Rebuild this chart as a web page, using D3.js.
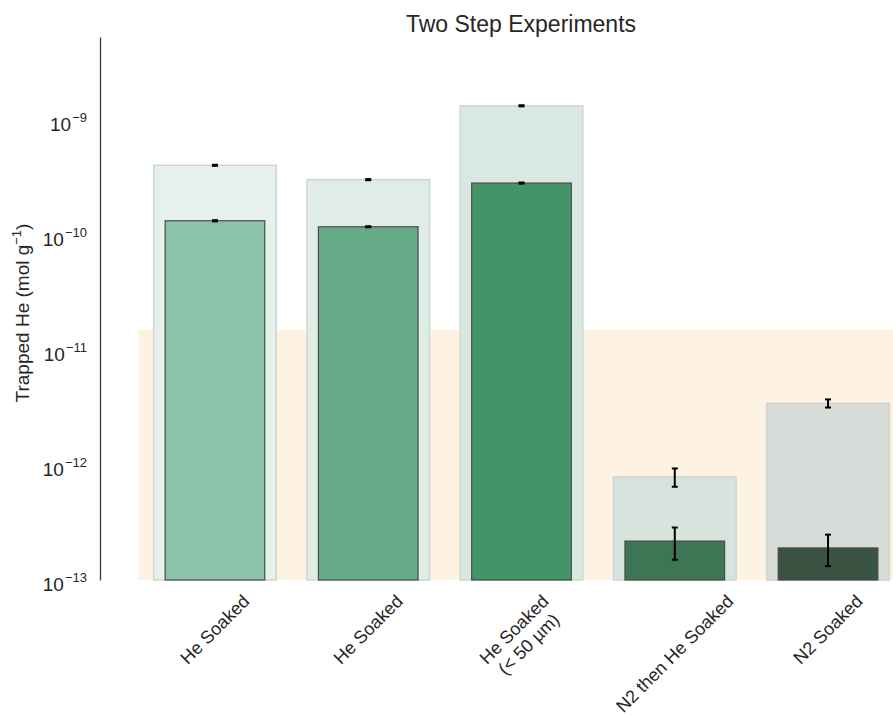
<!DOCTYPE html>
<html>
<head>
<meta charset="utf-8">
<script src="https://cdn.jsdelivr.net/npm/d3@7"></script>
<style>
  html, body { margin: 0; padding: 0; background: #ffffff; }
  svg { display: block; }
  text { font-family: "Liberation Sans", Arial, sans-serif; fill: #262626; }
</style>
</head>
<body>
<svg id="chart" width="893" height="719"></svg>
<script>
// Sample treatments, in plotting order
const categories = ["He Soaked", "He Soaked", "He Soaked\n(< 50 µm)", "N2 then He Soaked", "N2 Soaked"];

// Total helium released (mol g^-1) and its uncertainty
const totalHe    = [4.04e-10, 3.03e-10, 1.33e-9, 7.9e-13, 3.44e-12];
const totalHeErr = [4.5e-12, 3.5e-12, 1.5e-11, 1.43e-13, 2.8e-13];

// Helium that stayed trapped (mol g^-1) and its uncertainty
const trappedHe    = [1.33e-10, 1.18e-10, 2.83e-10, 2.18e-13, 1.90e-13];
const trappedHeErr = [1.6e-12, 1.3e-12, 3.2e-12, 6.8e-14, 5.8e-14];

// Detection limit shown as a shaded band
const detectionLimit = 1.5e-11;

// Y axis decades
const tickExponents = [-13, -12, -11, -10, -9];

// Colours per treatment
const trappedColors = ["#8cc2aa", "#66aa88", "#439467", "#3e7555", "#3a5343"];
const totalColors   = ["#e6f0ec", "#e0ede6", "#d9e9e1", "#d8e3dd", "#d8dcd9"];

const svg = d3.select("#chart");

const x = d3.scaleLinear().domain([-0.75, 4.75]).range([100, 943]);
const y = d3.scaleLog().domain([1e-13, Math.pow(10, -8.278)]).range([580, 37]);

const idx = d3.range(categories.length);
const wideW = 0.8, narrowW = 0.65;

// detection-limit band
svg.append("rect")
  .attr("x", x(-0.5))
  .attr("y", y(detectionLimit))
  .attr("width", x(4.75) - x(-0.5))
  .attr("height", y(1e-13) - y(detectionLimit))
  .attr("fill", "#fef3e3");

// total helium bars (wide, pale)
svg.append("g").selectAll("rect").data(idx).join("rect")
  .attr("x", i => x(i - wideW / 2))
  .attr("y", i => y(totalHe[i]))
  .attr("width", x(wideW) - x(0))
  .attr("height", i => y(1e-13) - y(totalHe[i]))
  .attr("fill", i => totalColors[i])
  .attr("stroke", "#cfd5d2")
  .attr("stroke-width", 1.5);

function errorBars(vals, errs) {
  const g = svg.append("g").attr("stroke", "#000").attr("stroke-width", 2).attr("fill", "none");
  idx.forEach(i => {
    const cx = x(i);
    const y0 = y(vals[i] - errs[i]), y1 = y(vals[i] + errs[i]);
    g.append("line").attr("x1", cx).attr("x2", cx).attr("y1", y0).attr("y2", y1);
    g.append("line").attr("x1", cx - 3).attr("x2", cx + 3).attr("y1", y0).attr("y2", y0);
    g.append("line").attr("x1", cx - 3).attr("x2", cx + 3).attr("y1", y1).attr("y2", y1);
  });
}
errorBars(totalHe, totalHeErr);

// trapped helium bars (narrow, solid)
svg.append("g").selectAll("rect").data(idx).join("rect")
  .attr("x", i => x(i - narrowW / 2))
  .attr("y", i => y(trappedHe[i]))
  .attr("width", x(narrowW) - x(0))
  .attr("height", i => y(1e-13) - y(trappedHe[i]))
  .attr("fill", i => trappedColors[i])
  .attr("stroke", "#4a4a4a")
  .attr("stroke-width", 1.2);

errorBars(trappedHe, trappedHeErr);

// y axis
const yAxis = svg.append("g")
  .attr("transform", "translate(100,0)")
  .call(d3.axisLeft(y)
    .tickValues(tickExponents.map(e => Math.pow(10, e)))
    .tickSize(0)
    .tickSizeOuter(0)
    .tickPadding(13)
    .tickFormat(""));
yAxis.select(".domain").attr("stroke", "#3a3a3a").attr("stroke-width", 1.3);
yAxis.selectAll(".tick text").each(function (d, k) {
  const t = d3.select(this)
    .attr("dy", "0.55em")
    .attr("font-size", 19)
    .attr("font-family", "Liberation Sans, Arial, sans-serif")
    .attr("fill", "#262626");
  t.text("10");
  t.append("tspan").attr("font-size", 13).attr("dy", -8.5).attr("dx", 1)
    .text("\u2212" + Math.abs(tickExponents[k]));
});

// y label
const yl = svg.append("text")
  .attr("transform", "translate(29,313) rotate(-90)")
  .attr("text-anchor", "middle")
  .attr("font-size", 19);
yl.append("tspan").text("Trapped He (mol g");
yl.append("tspan").attr("font-size", 13).attr("dy", -8).text("\u22121");
yl.append("tspan").attr("dy", 8).text(")");

// x tick labels, rotated 45 degrees and centred under each bar
idx.forEach(i => {
  const g = svg.append("g");
  const t = g.append("text").attr("font-size", 18).attr("text-anchor", "middle");
  const lines = categories[i].split("\n");
  lines.forEach((ln, k) => {
    t.append("tspan").attr("x", 0).attr("dy", k === 0 ? 0 : "1.15em").text(ln);
  });
  const bb = t.node().getBBox();
  const cx = bb.x + bb.width / 2, cy = bb.y + bb.height / 2;
  const a = -Math.PI / 4;
  const rx = cx * Math.cos(a) - cy * Math.sin(a);
  const ry = cx * Math.sin(a) + cy * Math.cos(a);
  const half = (bb.width + bb.height) / (2 * Math.SQRT2);
  const tx = x(i) - rx, ty = 591 + half - ry;
  g.attr("transform", `translate(${tx},${ty}) rotate(-45)`);
});

// title
svg.append("text")
  .attr("x", 521).attr("y", 31.5)
  .attr("text-anchor", "middle")
  .attr("font-size", 23)
  .text("Two Step Experiments");
</script>
</body>
</html>
